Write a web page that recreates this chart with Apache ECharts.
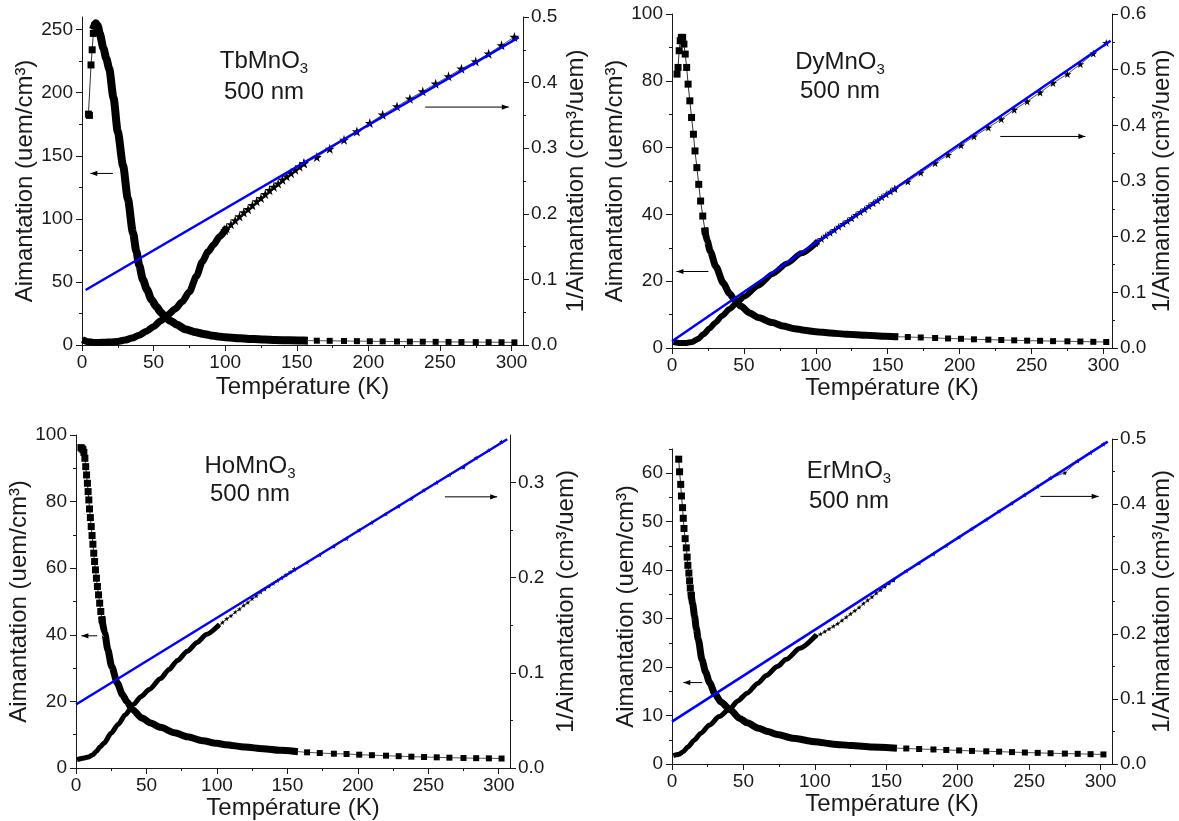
<!DOCTYPE html>
<html><head><meta charset="utf-8">
<script src="https://cdn.jsdelivr.net/npm/echarts@6/dist/echarts.min.js"></script>
<style>html,body{margin:0;padding:0;background:#fff}#c{width:1179px;height:821px}</style>
</head><body><div id="c"></div>
<script>
// ---------- shared tick labels / temperature grids ----------
const X_TICKS = [0, 50, 100, 150, 200, 250, 300];
const X_MINOR = [25, 75, 125, 175, 225, 275];
const T_SPARSE = [164, 173, 183, 192, 201, 210, 220, 229, 238, 247, 256, 265, 275, 284, 293, 302];
const T_MID = [101, 104, 107, 110, 113, 116, 119, 122, 125, 128, 131, 134, 137, 140, 143, 146, 149, 152, 155];

// ---------- TbMnO3 ----------
const tbYTicks = [0, 50, 100, 150, 200, 250];
const tbYMinor = [25, 75, 125, 175, 225];
const tbRTicks = [0, 0.1, 0.2, 0.3, 0.4, 0.5];
const tbRMinor = [0.05, 0.15, 0.25, 0.35, 0.45];
const tbMDiscrete = [[4.5,183],[5.2,182],[6.3,222],[7.1,234],[7.9,247],[8.7,253]];
const tbMDense = [[8.7,253],[9.7,255],[11,253],[12.4,247],[15,235],[17,227],[19,219],[22,196],[25,169],[28.7,142],[32,116],[35.6,89],[38,74],[40,63],[42.5,52],[45.3,44],[48.5,36],[51.9,30.5],[55,26],[57.7,22.5],[62,19],[66.4,16],[72,12.5],[79.5,10.2],[85,8.7],[90,7.6],[95,6.8],[100,6.1],[110,5.3],[120,4.7],[127,4.4],[135,4.0],[145,3.7],[155,3.5]];
const tbMSparse = [3.4,3.3,3.2,3.05,2.95,2.85,2.75,2.65,2.6,2.5,2.45,2.35,2.3,2.25,2.2,2.1];
const tbRDense = [[2.5,0.006],[4,0.005],[8,0.004],[12,0.004],[16,0.0042],[20,0.0046],[25,0.0055],[30,0.0075],[35,0.0105],[40,0.015],[45,0.021],[50,0.028],[55,0.037],[60,0.046],[65,0.055],[70,0.066],[75,0.081],[80,0.105],[84,0.127],[88,0.142],[92,0.153],[96,0.165],[100,0.175]];
const tbRMid = [0.178,0.184,0.190,0.196,0.202,0.207,0.213,0.219,0.224,0.230,0.236,0.241,0.246,0.252,0.257,0.262,0.267,0.272,0.277];
const tbRSparse = [0.2864,0.2991,0.3128,0.3255,0.3383,0.351,0.3637,0.3754,0.3866,0.3983,0.4095,0.4212,0.4323,0.444,0.4568,0.4695];
const tbFitT = [2.5, 305];
const tbFitR = [0.0838, 0.4689];
const tbArrowM = [[21.6,136],[5.8,136]];
const tbArrowR = [[239.7,0.3627],[298.1,0.3627]];

// ---------- DyMnO3 ----------
const dyYTicks = [0, 20, 40, 60, 80, 100];
const dyYMinor = [10, 30, 50, 70, 90];
const dyRTicks = [0, 0.1, 0.2, 0.3, 0.4, 0.5, 0.6];
const dyRMinor = [0.05, 0.15, 0.25, 0.35, 0.45, 0.55];
const dyMDiscrete = [[3.5,82],[4.2,84],[5,89],[5.7,92],[6.5,93],[7.4,93],[8.3,91],[9.2,88],[10.2,84],[11.2,79],[12.4,74],[13.6,69],[14.9,64],[16,59],[17.3,54],[18.6,49],[19.9,44],[21.4,39.5],[23,35]];
const dyMDense = [[23,35],[24.5,32],[26.6,29],[30.5,24.4],[35.7,19.4],[40,16.3],[43.6,14.4],[48,12.5],[54,10.5],[60,9.1],[69.7,7.6],[77,6.6],[85.3,5.8],[92,5.3],[100,4.9],[110,4.5],[121.8,4.1],[135,3.8],[148,3.5],[155,3.4]];
const dyMSparse = [3.3,3.15,3.0,2.85,2.75,2.6,2.5,2.4,2.3,2.2,2.15,2.05,2.0,1.95,1.85,1.8];
const dyRDense = [[3,0.010],[6,0.009],[10,0.009],[14,0.011],[18,0.016],[22,0.025],[26,0.035],[30,0.045],[35,0.058],[40,0.07],[45,0.081],[50,0.092],[60,0.112],[70,0.133],[80,0.152],[90,0.17],[100,0.188]];
const dyRMid = [0.191,0.196,0.202,0.207,0.212,0.218,0.223,0.228,0.233,0.239,0.244,0.249,0.255,0.260,0.265,0.271,0.276,0.281,0.286];
const dyRSparse = [0.299,0.315,0.332,0.347,0.364,0.38,0.396,0.411,0.428,0.443,0.459,0.476,0.492,0.51,0.529,0.548];
const dyFitT = [0, 305];
const dyFitR = [0.012, 0.552];
const dyArrowM = [[25.3,22.9],[3.1,22.9]];
const dyArrowR = [[228.3,0.38],[287.5,0.38]];

// ---------- HoMnO3 ----------
const hoYTicks = [0, 20, 40, 60, 80, 100];
const hoYMinor = [10, 30, 50, 70, 90];
const hoRTicks = [0, 0.1, 0.2, 0.3];
const hoRMinor = [0.05, 0.15, 0.25];
const hoMDiscrete = [[3.5,96.2],[4.2,96],[4.9,95.6],[5.6,94.8],[6.3,93],[6.9,90.5],[7.5,88],[8.1,85.5],[8.6,83],[9.1,80.5],[9.6,77.8],[10.2,75.2],[10.8,72.5],[11.4,69.8],[12,67.2],[12.6,64.5],[13.2,62],[13.8,59.5],[14.5,57],[15.2,54.5],[16,52],[16.8,49.5],[17.6,47],[18.5,44.5]];
const hoMDense = [[18.5,44.5],[20.4,40.5],[22.6,35.5],[25.3,30.5],[29.3,25.5],[33,22],[36,20],[40,17.6],[46.8,15],[53,13.5],[60,12.2],[70,10.6],[79,9.4],[90,8.2],[100,7.4],[106,7],[120,6.3],[132.8,5.8],[145,5.3],[155,5]];
const hoMSparse = [4.7,4.5,4.3,4.2,4.0,3.85,3.7,3.55,3.4,3.3,3.2,3.1,3.0,2.95,2.9,2.85];
const hoRDense = [[2.4,0.0095],[6,0.0105],[9,0.0116],[12,0.014],[14.5,0.0175],[17,0.022],[20,0.0263],[25,0.0368],[30,0.046],[35,0.056],[41,0.067],[46,0.075],[52,0.0825],[60,0.094],[66,0.1035],[72,0.113],[79,0.1228],[86,0.132],[92.5,0.1404],[100.5,0.149]];
const hoRMid = [0.150,0.153,0.157,0.160,0.164,0.167,0.171,0.174,0.178,0.181,0.185,0.188,0.191,0.194,0.197,0.200,0.203,0.206,0.209];
const hoRSparse = [0.216,0.224,0.233,0.241,0.25,0.258,0.267,0.275,0.283,0.292,0.30,0.308,0.316,0.326,0.334,0.343];
const hoFitT = [0, 306];
const hoFitR = [0.0667, 0.3455];
const hoArrowM = [[15.1,39.7],[3.8,39.7]];
const hoArrowR = [[261.8,0.285],[298.9,0.285]];

// ---------- ErMnO3 ----------
const erYTicks = [0, 10, 20, 30, 40, 50, 60];
const erYMinor = [5, 15, 25, 35, 45, 55, 65];
const erRTicks = [0, 0.1, 0.2, 0.3, 0.4, 0.5];
const erRMinor = [0.05, 0.15, 0.25, 0.35, 0.45];
const erMDiscrete = [[4.7,62.9],[5.3,60.3],[6.1,57.7],[6.6,55.3],[7.4,52.9],[7.9,50.7],[8.4,48.6],[9.2,46.5],[10,44.6],[10.6,42.7],[11.1,41],[11.8,39.4],[12.3,37.8],[12.8,36.3],[13.5,34.8]];
const erMDense = [[13.5,34.8],[14.5,33],[15.8,30.5],[17,28],[18.4,25.7],[21,21.5],[23.5,19],[26.3,16.8],[30,14.5],[34.2,12.8],[40.8,11.2],[47.4,9.4],[52.6,8.5],[60.5,7.4],[67,6.7],[73.7,6.1],[85,5.3],[100,4.6],[113,4.1],[126,3.8],[140,3.5],[155,3.3]];
const erMSparse = [3.2,3.1,3.0,2.9,2.8,2.7,2.62,2.55,2.45,2.37,2.3,2.22,2.15,2.1,2.03,1.97];
const erRDense = [[2.6,0.0139],[5,0.015],[7.9,0.019],[11,0.026],[15.8,0.037],[20,0.047],[26.3,0.06],[33,0.073],[40.8,0.0857],[46,0.097],[52.6,0.109],[60,0.124],[66,0.136],[73.7,0.15],[80,0.161],[89.5,0.178],[100,0.196]];
const erRMid = [0.197,0.200,0.204,0.208,0.212,0.216,0.221,0.226,0.231,0.236,0.241,0.247,0.252,0.257,0.263,0.268,0.273,0.278,0.283];
const erRSparse = [0.297,0.309,0.323,0.336,0.349,0.362,0.376,0.389,0.401,0.414,0.427,0.44,0.448,0.466,0.479,0.492];
const erFitT = [0, 305];
const erFitR = [0.0652, 0.496];
const erArrowM = [[21.1,16.8],[7.9,16.8]];
const erArrowR = [[257.9,0.4117],[298.7,0.4117]];

// ---------- styles / layout ----------
const FONT = "'Liberation Sans', Arial, Helvetica, sans-serif";
const AX = '#1a1a1a';
const TXT = '#1a1a1a';
const BLUE = '#0000ff';
const STAR = 'path://M50,0 L61,35 L98,35 L68,57 L79,91 L50,70 L21,91 L32,57 L2,35 L39,35 Z';
const TICK_FS = 19, NAME_FS = 24, TITLE_FS = 24;

const PANELS = [
  {name:'TbMnO', mD:tbMDiscrete, mDense:tbMDense, mS:tbMSparse, rDense:tbRDense, rMid:tbRMid, rS:tbRSparse, fitT:tbFitT, fitR:tbFitR, arM:tbArrowM, arR:tbArrowR,
   yT:tbYTicks, yMi:tbYMinor, rT:tbRTicks, rMi:tbRMinor, mMax:260, rMax:0.5, xMax:308,
   L:82, R:523, TM:17, TR:17, B:345, xGap:30, yGap:43, rGap:41, wM:8, wR:7, star:10, tx:264, ty1:61, ty2:92},
  {name:'DyMnO', mD:dyMDiscrete, mDense:dyMDense, mS:dyMSparse, rDense:dyRDense, rMid:dyRMid, rS:dyRSparse, fitT:dyFitT, fitR:dyFitR, arM:dyArrowM, arR:dyArrowR,
   yT:dyYTicks, yMi:dyYMinor, rT:dyRTicks, rMi:dyRMinor, mMax:100, rMax:0.6, xMax:306,
   L:672, R:1112, TM:14, TR:14, B:348, xGap:26, yGap:34, rGap:33, wM:7, wR:6, star:8, tx:840, ty1:62, ty2:91},
  {name:'HoMnO', mD:hoMDiscrete, mDense:hoMDense, mS:hoMSparse, rDense:hoRDense, rMid:hoRMid, rS:hoRSparse, fitT:hoFitT, fitR:hoFitR, arM:hoArrowM, arR:hoArrowR,
   yT:hoYTicks, yMi:hoYMinor, rT:hoRTicks, rMi:hoRMinor, mMax:100, rMax:0.35, xMax:308,
   L:76, R:510, TM:435, TR:435, B:768, xGap:18, yGap:34, rGap:44, wM:7, wR:5, star:5, tx:250, ty1:466, ty2:494},
  {name:'ErMnO', mD:erMDiscrete, mDense:erMDense, mS:erMSparse, rDense:erRDense, rMid:erRMid, rS:erRSparse, fitT:erFitT, fitR:erFitR, arM:erArrowM, arR:erArrowR,
   yT:erYTicks, yMi:erYMinor, rT:erRTicks, rMi:erRMinor, mMax:65, rMax:0.5, xMax:308,
   L:672, R:1112, TM:449, TR:439, B:764, xGap:23, yGap:31, rGap:37, wM:7, wR:5, star:5, tx:849, ty1:471, ty2:501}
];

const grid = [], xAxis = [], yAxis = [], series = [], graphic = [];
const nameStyle = {fontSize:NAME_FS, color:TXT, fontFamily:FONT};
const lblStyle = {color:TXT, fontSize:TICK_FS, fontFamily:FONT};
const axisRefs = [];

PANELS.forEach(p => {
  const gM = grid.length;
  grid.push({left:p.L, top:p.TM, width:p.R-p.L, height:p.B-p.TM});
  const gR = grid.length;
  grid.push({left:p.L, top:p.TR, width:p.R-p.L, height:p.B-p.TR});

  const xM = xAxis.length;
  xAxis.push({gridIndex:gM, type:'value', min:0, max:p.xMax, position:'bottom', splitLine:{show:false},
    axisLine:{show:true, onZero:false, lineStyle:{color:AX, width:1}},
    axisTick:{show:true, customValues:X_TICKS, length:6, lineStyle:{color:AX}},
    axisLabel:{show:true, customValues:X_TICKS, margin:8, ...lblStyle},
    name:'Température (K)', nameLocation:'middle', nameGap:p.xGap, nameTextStyle:nameStyle});
  xAxis.push({gridIndex:gM, type:'value', min:0, max:p.xMax, position:'bottom', splitLine:{show:false},
    axisLine:{show:false, onZero:false}, axisTick:{show:true, customValues:X_MINOR, length:3, lineStyle:{color:AX}},
    axisLabel:{show:false}});
  const xR = xAxis.length;
  xAxis.push({gridIndex:gR, type:'value', min:0, max:p.xMax, show:false, splitLine:{show:false}, axisLine:{onZero:false}});

  const yM = yAxis.length;
  yAxis.push({gridIndex:gM, type:'value', min:0, max:p.mMax, position:'left', splitLine:{show:false},
    axisLine:{show:true, onZero:false, lineStyle:{color:AX, width:1}},
    axisTick:{show:true, customValues:p.yT, length:6, lineStyle:{color:AX}},
    axisLabel:{show:true, customValues:p.yT, margin:9, ...lblStyle},
    name:'Aimantation (uem/cm³)', nameLocation:'middle', nameRotate:90, nameGap:p.yGap, nameTextStyle:nameStyle});
  yAxis.push({gridIndex:gM, type:'value', min:0, max:p.mMax, position:'left', splitLine:{show:false},
    axisLine:{show:false, onZero:false}, axisTick:{show:true, customValues:p.yMi, length:3, lineStyle:{color:AX}},
    axisLabel:{show:false}});
  const yR = yAxis.length;
  yAxis.push({gridIndex:gR, type:'value', min:0, max:p.rMax, position:'right', splitLine:{show:false},
    axisLine:{show:true, onZero:false, lineStyle:{color:AX, width:1}},
    axisTick:{show:true, customValues:p.rT, length:6, lineStyle:{color:AX}},
    axisLabel:{show:true, customValues:p.rT, margin:8, formatter:v => v.toFixed(1), ...lblStyle},
    name:'1/Aimantation (cm³/uem)', nameLocation:'middle', nameRotate:90, nameGap:p.rGap, nameTextStyle:nameStyle});
  yAxis.push({gridIndex:gR, type:'value', min:0, max:p.rMax, position:'right', splitLine:{show:false},
    axisLine:{show:false, onZero:false}, axisTick:{show:true, customValues:p.rMi, length:3, lineStyle:{color:AX}},
    axisLabel:{show:false}});
  axisRefs.push({xM, yM, xR, yR, p});

  const base = {type:'line', silent:true, animation:false, emphasis:{disabled:true}};
  // 1/M : dense ribbon, mid stars, sparse stars
  series.push({...base, xAxisIndex:xR, yAxisIndex:yR, data:p.rDense, symbol:'none', smooth:0.25, smoothMonotone:'x',
    lineStyle:{color:'#000', width:p.wR, cap:'square', join:'round'}});
  const rMidData = [p.rDense[p.rDense.length-1]].concat(T_MID.map((t,k)=>[t, p.rMid[k]]));
  series.push({...base, xAxisIndex:xR, yAxisIndex:yR, data:rMidData, symbol:STAR, symbolSize:p.star, showAllSymbol:true,
    itemStyle:{color:'#000'}, lineStyle:{color:'#333', width:1}});
  const rSData = [rMidData[rMidData.length-1]].concat(T_SPARSE.map((t,k)=>[t, p.rS[k]]));
  series.push({...base, xAxisIndex:xR, yAxisIndex:yR, data:rSData, symbol:STAR, symbolSize:p.star, showAllSymbol:true,
    itemStyle:{color:'#000'}, lineStyle:{color:'#555', width:1}});
  // M : dense ribbon, discrete squares, sparse squares
  series.push({...base, xAxisIndex:xM, yAxisIndex:yM, data:p.mDense, symbol:'none', smooth:0.25, smoothMonotone:'x',
    lineStyle:{color:'#000', width:p.wM, cap:'square', join:'round'}});
  series.push({...base, xAxisIndex:xM, yAxisIndex:yM, data:p.mD, symbol:'rect', symbolSize:7, showAllSymbol:true,
    itemStyle:{color:'#000'}, lineStyle:{color:'#333', width:1}});
  const mSData = [p.mDense[p.mDense.length-1]].concat(T_SPARSE.map((t,k)=>[t, p.mS[k]]));
  series.push({...base, xAxisIndex:xM, yAxisIndex:yM, data:mSData, symbol:'rect', symbolSize:6, showAllSymbol:true,
    itemStyle:{color:'#000'}, lineStyle:{color:'#555', width:1}});
  // linear fit
  series.push({...base, xAxisIndex:xR, yAxisIndex:yR, z:5, data:[[p.fitT[0],p.fitR[0]],[p.fitT[1],p.fitR[1]]], symbol:'none',
    lineStyle:{color:BLUE, width:2.5}});

  // sample label
  graphic.push({type:'text', silent:true, style:{x:p.tx, y:p.ty1, text:'{a|'+p.name+'}{s|3}', align:'center', verticalAlign:'middle',
    rich:{a:{fontSize:TITLE_FS, fontFamily:FONT, fill:TXT, lineHeight:30, verticalAlign:'middle'},
          s:{fontSize:15, fontFamily:FONT, fill:TXT, lineHeight:4, verticalAlign:'bottom'}}}});
  graphic.push({type:'text', silent:true, style:{x:p.tx, y:p.ty2, text:'500 nm', align:'center', verticalAlign:'middle',
    font:TITLE_FS + 'px ' + FONT, fill:TXT}});
});

const chart = echarts.init(document.getElementById('c'), null, {renderer:'canvas'});
chart.setOption({animation:false, backgroundColor:'#fff', grid, xAxis, yAxis, series});

// arrows (annotation) positioned in data coordinates through the axes
function arrowGraphics(a, b){
  const out = [];
  out.push({type:'line', silent:true, z:10, shape:{x1:a[0], y1:a[1], x2:b[0], y2:b[1]}, style:{stroke:'#000', lineWidth:1}});
  const dx = b[0]-a[0], dy = b[1]-a[1], len = Math.hypot(dx, dy) || 1;
  const ux = dx/len, uy = dy/len, hl = 7, hw = 2.6;
  const bx = b[0]-ux*hl, by = b[1]-uy*hl;
  out.push({type:'polygon', silent:true, z:10, shape:{points:[[b[0],b[1]],[bx-uy*hw,by+ux*hw],[bx+uy*hw,by-ux*hw]]}, style:{fill:'#000'}});
  return out;
}
axisRefs.forEach(r => {
  const m0 = chart.convertToPixel({xAxisIndex:r.xM, yAxisIndex:r.yM}, r.p.arM[0]);
  const m1 = chart.convertToPixel({xAxisIndex:r.xM, yAxisIndex:r.yM}, r.p.arM[1]);
  const q0 = chart.convertToPixel({xAxisIndex:r.xR, yAxisIndex:r.yR}, r.p.arR[0]);
  const q1 = chart.convertToPixel({xAxisIndex:r.xR, yAxisIndex:r.yR}, r.p.arR[1]);
  graphic.push(...arrowGraphics(m0, m1), ...arrowGraphics(q0, q1));
});
chart.setOption({graphic});
</script>
</body></html>
